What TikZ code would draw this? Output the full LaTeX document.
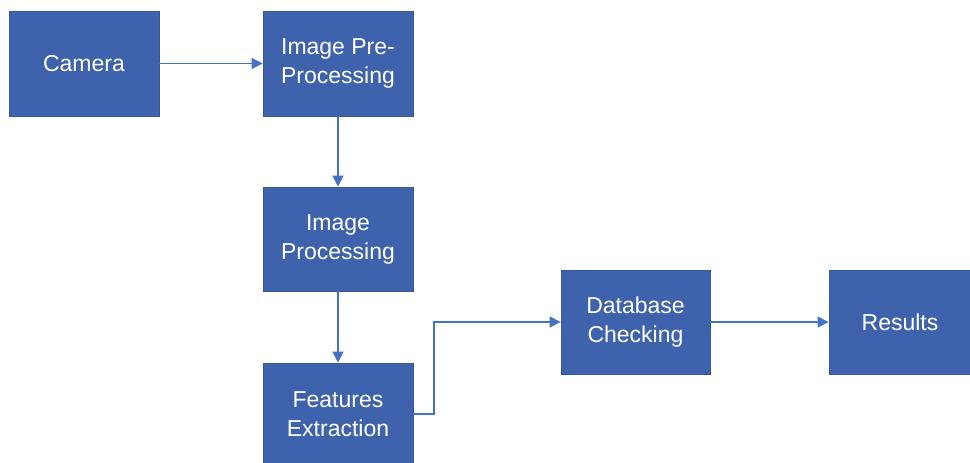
\documentclass[tikz,border=0pt]{standalone}
\usepackage{fontspec}
\setmainfont{Liberation Sans}
\usetikzlibrary{arrows.meta}
\definecolor{boxfill}{HTML}{3F62AD}
\definecolor{boxline}{HTML}{36579A}
\definecolor{arrowc}{HTML}{4472C4}
\begin{document}
\begin{tikzpicture}[x=1pt,y=-1pt,
  blockbox/.style={draw=boxline,line width=0.8pt,fill=boxfill,text=white,
    font=\fontsize{23}{29}\selectfont,align=center,inner sep=0pt},
  conn/.style={draw=arrowc,line width=1.3pt,-{Triangle[length=11pt,width=11pt]}}]
\useasboundingbox (0,0) rectangle (970,463);
\node[blockbox,minimum width=150pt,minimum height=105pt] (cam) at (84,63.5) {Camera};
\node[blockbox,minimum width=150pt,minimum height=105pt] (pre) at (338,63.5) {Image Pre-\\Processing};
\node[blockbox,minimum width=150pt,minimum height=104pt] (proc) at (338,239) {Image\\Processing};
\node[blockbox,minimum width=150pt,minimum height=102pt] (feat) at (338,414) {Features\\Extraction};
\node[blockbox,minimum width=149pt,minimum height=104pt] (db) at (635.5,322) {Database\\Checking};
\node[blockbox,minimum width=142pt,minimum height=104pt] (res) at (900,322) {Results};
\draw[conn] (cam.east) -- (pre.west);
\draw[conn] (pre.south) -- (proc.north);
\draw[conn] (proc.south) -- (feat.north);
\draw[conn] (feat.east) -- (434,414) |- (db.west);
\draw[conn] (db.east) -- (res.west);
\end{tikzpicture}
\end{document}
